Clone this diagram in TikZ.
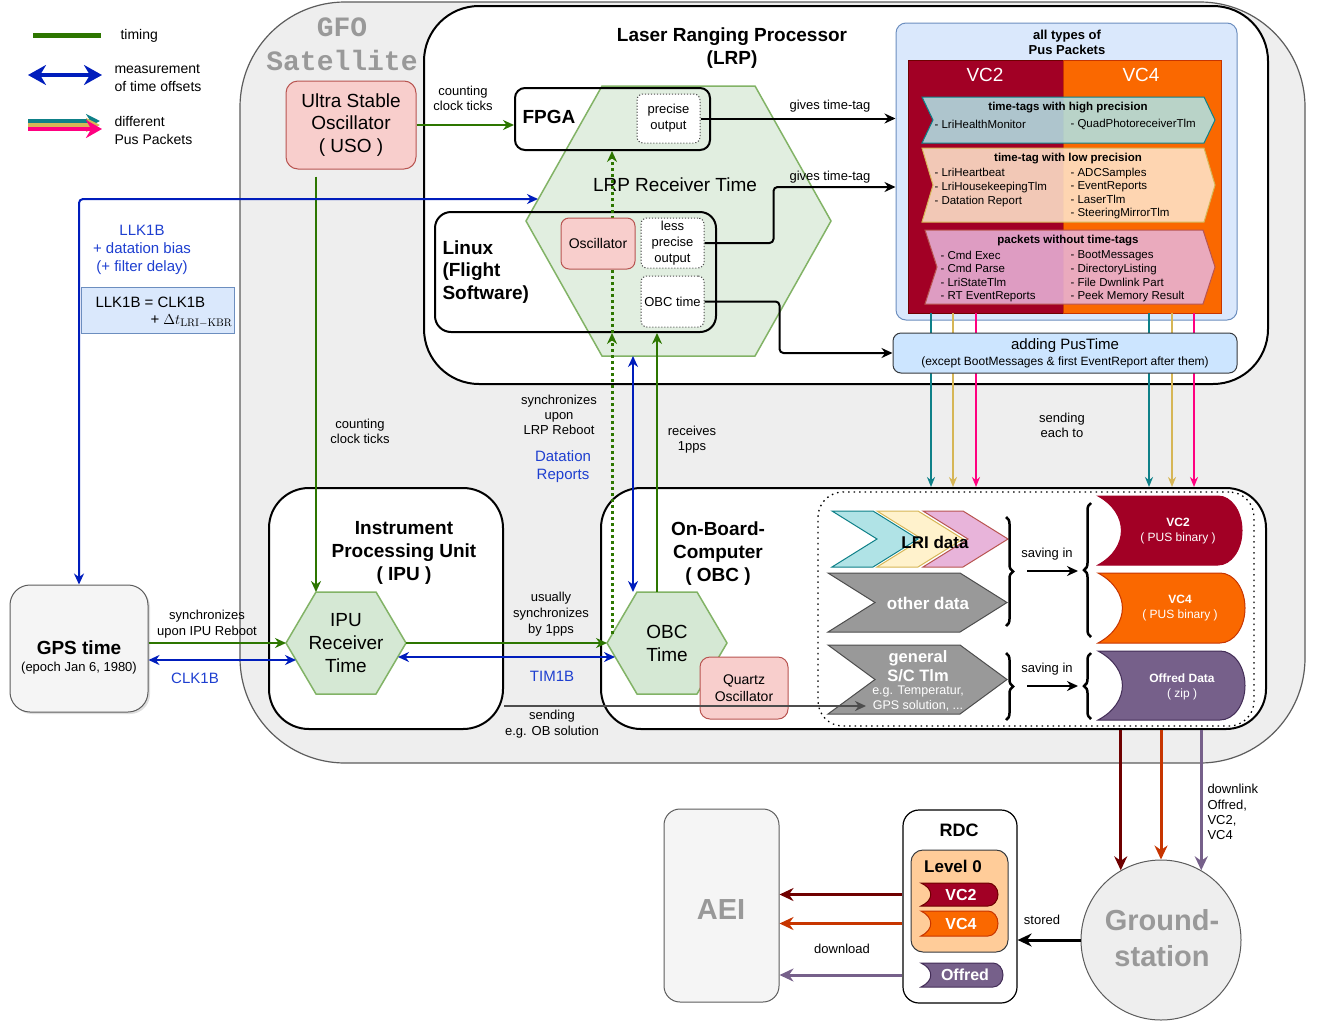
\documentclass[tikz,border=0pt]{standalone}
\usepackage[no-math]{fontspec}
\setmainfont{Liberation Sans}
\newfontfamily\monofont{Liberation Mono}
\usetikzlibrary{arrows.meta, calc, shadows, decorations.pathreplacing}

\definecolor{timegreen}{HTML}{2D7600}
\definecolor{offsetblue}{HTML}{001DBC}
\definecolor{labelblue}{HTML}{1E3FD0}
\definecolor{hexfill}{HTML}{D5E8D4}
\definecolor{hexline}{HTML}{82B366}
\definecolor{oscfill}{HTML}{F8CECC}
\definecolor{oscline}{HTML}{B85450}
\definecolor{satfill}{HTML}{EEEEEE}
\definecolor{satline}{HTML}{5C5C5C}
\definecolor{pusfill}{HTML}{DAE8FC}
\definecolor{pusedge}{HTML}{6C8EBF}
\definecolor{vctwo}{HTML}{A20025}
\definecolor{vctwoline}{HTML}{6F0000}
\definecolor{vcfour}{HTML}{FA6800}
\definecolor{vcfourline}{HTML}{C73500}
\definecolor{offredc}{HTML}{76608A}
\definecolor{offredline}{HTML}{432D57}
\definecolor{tealfill}{HTML}{B0E3E6}
\definecolor{tealline}{HTML}{0E8088}
\definecolor{yellowfill}{HTML}{FFF2CC}
\definecolor{yellowline}{HTML}{D6B656}
\definecolor{peachfill}{HTML}{FFE6CC}
\definecolor{pinkfill}{HTML}{E8B4DA}
\definecolor{pinkline}{HTML}{FF0080}
\definecolor{addfill}{HTML}{CCE5FF}
\definecolor{darkline}{HTML}{36393D}
\definecolor{levelfill}{HTML}{FFCC99}
\definecolor{grayfill}{HTML}{999999}
\definecolor{graytext}{HTML}{999999}
\definecolor{boxgray}{HTML}{F5F5F5}
\definecolor{sendgray}{HTML}{4D4D4D}

% step shape: style, x0, y0, x1, y1, tip depth
\newcommand{\chevronshape}[6]{%
  \filldraw[#1] (#2,#3) -- ({#4-#6},#3) -- (#4,{0.5*(#3+#5)}) -- ({#4-#6},#5)
    -- (#2,#5) -- ({#2+#6},{0.5*(#3+#5)}) -- cycle;}
% stored data shape: style, x0, y0, x1, y1, bulge
\newcommand{\storeshape}[6]{%
  \filldraw[#1] (#2,#3) -- ({#4-#6},#3)
    .. controls ({#4-0.45*#6},#3) and (#4,{#3+0.22*(#5-#3)}) .. (#4,{0.5*(#3+#5)})
    .. controls (#4,{#5-0.22*(#5-#3)}) and ({#4-0.45*#6},#5) .. ({#4-#6},#5)
    -- (#2,#5)
    .. controls ({#2+1.3*#6},{#5-0.25*(#5-#3)}) and ({#2+1.3*#6},{#3+0.25*(#5-#3)}) .. (#2,#3) -- cycle;}
% hexagon round a named node: node, inset, style
\newcommand{\hexoutline}[3]{%
  \filldraw[#3] (#1.west) -- ($(#1.north west)+(#2,0)$) -- ($(#1.north east)+(-#2,0)$)
    -- (#1.east) -- ($(#1.south east)+(-#2,0)$) -- ($(#1.south west)+(#2,0)$) -- cycle;}

\begin{document}
\begin{tikzpicture}[x=1pt, y=-1pt, line width=1pt,
    lbl/.style={font=\fontsize{13}{15}\selectfont, align=center, inner sep=0pt},
    bluelbl/.style={font=\fontsize{15}{18}\selectfont, align=center, inner sep=0pt, text=labelblue},
    heading/.style={font=\bfseries\fontsize{19}{23}\selectfont, align=center, inner sep=0pt},
    bigtxt/.style={font=\fontsize{19}{23}\selectfont, align=center, inner sep=0pt},
    smalltxt/.style={font=\fontsize{14}{17}\selectfont, align=center, inner sep=0pt},
    itemtxt/.style={font=\fontsize{11.5}{13.6}\selectfont, align=left, inner sep=0pt, anchor=west},
    bandtitle/.style={font=\bfseries\fontsize{11.5}{13.6}\selectfont, inner sep=0pt},
    legtxt/.style={font=\fontsize{14}{18}\selectfont, align=left, inner sep=0pt, anchor=west},
    graytitle/.style={font=\bfseries\fontsize{29}{36}\selectfont, text=graytext, align=center, inner sep=0pt},
    unitbox/.style={draw=black, line width=2pt, fill=white, rounded corners=40pt},
    framebox/.style={draw=black, line width=2pt, rounded corners=10pt, inner sep=0pt},
    oscbox/.style={draw=oscline, fill=oscfill, rounded corners=10pt},
    dotbox/.style={draw=black!70, dash pattern=on 1.2pt off 1.8pt, fill=white, rounded corners=6pt,
      minimum width=63pt, font=\fontsize{13}{16}\selectfont, align=center, inner sep=0pt},
    anchorbox/.style={inner sep=0pt, outer sep=0pt},
    hexa/.style={fill=hexfill, draw=hexline, line width=1.5pt},
    timeflow/.style={draw=timegreen, line width=2pt, -{Stealth[length=11pt,width=10pt]}},
    offsetflow/.style={draw=offsetblue, line width=2pt, {Stealth[length=11pt,width=10pt]}-{Stealth[length=11pt,width=10pt]}},
    tagflow/.style={draw=black, line width=2pt, -{Stealth[length=11pt,width=10pt]}},
    pusflow/.style={line width=2pt, -{Stealth[length=10pt,width=8pt]}},
    dlflow/.style={line width=3pt, -{Stealth[length=14pt,width=13pt]}},
    bandshape/.style={fill opacity=0.87, line width=1pt},
    bracedeco/.style={decorate, decoration={brace, amplitude=7pt}, line width=2.5pt}
  ]
  \useasboundingbox (0,0) rectangle (1319,1023);

  % legend
  \coordinate (legTa) at (33,35);
  \coordinate (legTb) at (101,35);
  \draw[draw=timegreen, line width=5pt] (legTa) -- (legTb);
  \node[legtxt] (legT) at (120,36) {timing};
  \coordinate (legMa) at (28,75);
  \coordinate (legMb) at (102,75);
  \draw[draw=offsetblue, line width=4pt, {Stealth[length=18pt,width=20pt]}-{Stealth[length=18pt,width=20pt]}] (legMa) -- (legMb);
  \node[legtxt] (legM) at (114,78) {measurement\\of time offsets};
  \coordinate (legPa) at (28,121);
  \coordinate (legPb) at (100,121);
  \draw[draw=tealline, line width=4pt, -{Stealth[length=14pt,width=14pt]}] (legPa) -- (legPb);
  \draw[draw=yellowline, line width=4pt, -{Stealth[length=14pt,width=14pt]}] ($(legPa)+(0,4)$) -- ($(legPb)+(0,4)$);
  \draw[draw=pinkline, line width=4pt, -{Stealth[length=16pt,width=18pt]}] ($(legPa)+(0,8)$) -- ($(legPb)+(2,8)$);
  \node[legtxt] (legP) at (114,130.5) {different\\Pus Packets};

  % satellite
  \draw[fill=satfill, draw=satline, line width=1.2pt, rounded corners=105pt]
    (700,763) -- (240,763) -- (240,2) -- (1305,2) -- (1305,763) -- cycle;
  \node[font=\monofont\bfseries\fontsize{28}{34}\selectfont, text=graytext, align=center, inner sep=0pt] (gfo) at (342,44) {GFO\\Satellite};

  % units
  \node[unitbox, rounded corners=55pt, minimum width=844pt, minimum height=378pt] (lrp) at (846,195) {};
  \node[heading] (lrptitle) at (732,48) {Laser Ranging Processor\\(LRP)};
  \node[unitbox, minimum width=234pt, minimum height=241pt] (ipu) at (386,608.5) {};
  \node[heading] (iputitle) at (404,553) {Instrument\\Processing Unit\\( IPU )};
  \node[unitbox, minimum width=665pt, minimum height=241pt] (obc) at (933.5,608.5) {};
  \node[heading] (obctitle) at (718,554) {On-Board-\\Computer\\( OBC )};

  % receiver times
  \node[anchorbox, minimum width=120pt, minimum height=102pt] (ipuhex) at (346,643) {};
  \hexoutline{ipuhex}{30}{hexa}
  \node[bigtxt] (iputime) at (ipuhex) {IPU\\Receiver\\Time};
  \node[anchorbox, minimum width=120pt, minimum height=102pt] (obchex) at (667,643) {};
  \hexoutline{obchex}{30}{hexa}
  \node[bigtxt] (obctimetxt) at (obchex) {OBC\\Time};
  \node[oscbox, smalltxt, minimum width=88pt, minimum height=62pt] (quartz) at (744,688) {Quartz\\Oscillator};

  \node[oscbox, bigtxt, rounded corners=12pt, minimum width=130pt, minimum height=88pt, font=\fontsize{19}{22.5}\selectfont] (uso) at (351,125) {Ultra Stable\\Oscillator\\( USO )};

  \node[anchorbox, minimum width=305pt, minimum height=270pt] (lrphex) at (678.5,221) {};
  \hexoutline{lrphex}{76}{hexa, fill opacity=0.7}
  \node[framebox, minimum width=195pt, minimum height=62pt] (fpga) at (612.5,119) {};
  \node[heading, anchor=west] (fpgatxt) at (522,117) {FPGA};
  \node[framebox, rounded corners=16pt, minimum width=281pt, minimum height=120pt] (linux) at (575.5,272) {};
  \node[heading, anchor=west, align=left, font=\bfseries\fontsize{19}{22.5}\selectfont] (linuxtxt) at (442,272) {Linux\\(Flight\\Software)};
  \node[bigtxt] (lrptime) at (675,185) {LRP Receiver Time};

  % synchronisation upon reboot
  \coordinate (syncout) at ($(obchex.west)+(5,-9)$);
  \draw[timeflow, line width=3pt, dash pattern=on 3pt off 3pt] (syncout) -- (syncout |- linux.south);
  \draw[timeflow, line width=3pt, dash pattern=on 3pt off 3pt] (syncout |- linux.south) -- (syncout |- fpga.south);

  \node[dotbox, minimum height=49pt] (precise) at (668.5,118.5) {precise\\output};
  \node[oscbox, smalltxt, rounded corners=8pt, minimum width=74pt, minimum height=51pt] (osc) at (598,243.5) {Oscillator};
  \node[dotbox, minimum height=50pt] (lessprec) at (672.5,243) {less\\precise\\output};
  \node[dotbox, minimum height=51pt] (obctime) at (672.5,301.5) {OBC time};

  % pus packets
  \node[draw=pusedge, fill=pusfill, rounded corners=10pt, minimum width=341pt, minimum height=297pt] (puspk) at (1066.5,171.5) {};
  \node[bandtitle, font=\bfseries\fontsize{13}{15}\selectfont, align=center] (pustitle) at (1067,42) {all types of\\Pus Packets};
  \node[anchorbox, anchor=north west, fill=vctwo, draw=vctwoline, minimum width=155pt, minimum height=253pt] (vctwoarea) at (908,60) {};
  \node[anchorbox, anchor=north west, fill=vcfour, draw=vcfourline, minimum width=158pt, minimum height=253pt] (vcfourarea) at (1063,60) {};
  \node[bigtxt, text=white] (vctwohead) at (985,75) {VC2};
  \node[bigtxt, text=white] (vcfourhead) at (1141,75) {VC4};

  \chevronshape{bandshape, fill=tealfill, draw=tealline}{922}{97}{1215}{143}{11}
  \node[bandtitle] (hightitle) at (1068,108) {time-tags with high precision};
  \node[itemtxt] (highleft) at (934,124) {- LriHealthMonitor};
  \node[itemtxt] (highright) at (1070,124) {- QuadPhotoreceiverTlm};

  \chevronshape{bandshape, fill=peachfill, draw=yellowline}{922}{148}{1215}{222}{11}
  \node[bandtitle] (lowtitle) at (1068,159) {time-tag with low precision};
  \node[itemtxt] (lowleft) at (934,187.5) {- LriHeartbeat\\- LriHousekeepingTlm\\- Datation Report};
  \node[itemtxt] (lowright) at (1070,193.5) {- ADCSamples\\- EventReports\\- LaserTlm\\- SteeringMirrorTlm};

  \chevronshape{bandshape, fill=pinkfill, draw=oscline}{925}{230}{1215}{304}{12}
  \node[bandtitle] (nonetitle) at (1068,241) {packets without time-tags};
  \node[itemtxt] (noneleft) at (940,276.5) {- Cmd Exec\\- Cmd Parse\\- LriStateTlm\\- RT EventReports};
  \node[itemtxt] (noneright) at (1070,276.5) {- BootMessages\\- DirectoryListing\\- File Dwnlink Part\\- Peek Memory Result};

  \foreach \xx/\cc in {931/tealline, 953/yellowline, 976/pinkline, 1149/tealline, 1172/yellowline, 1194/pinkline}
    \draw[pusflow, draw=\cc] (vctwoarea.south -| \xx,0) -- (obc.north -| \xx,0);
  \node[lbl] (sendeach) at (1062,425) {sending\\each to};

  \node[draw=darkline, fill=addfill, rounded corners=8pt, minimum width=344pt, minimum height=40pt] (addpus) at (1065,353) {};
  \node[lbl, font=\fontsize{15}{18}\selectfont] (addpustxt) at (1065,346) {adding PusTime};
  \node[lbl, font=\fontsize{12}{14}\selectfont] (addpusnote) at (1065,362) {(except BootMessages \& first EventReport after them)};

  % time tags
  \draw[tagflow] (precise.east) -- (precise.east -| puspk.west);
  \node[lbl] (tagone) at (830,106) {gives time-tag};
  \draw[tagflow, rounded corners=4pt] (lessprec.east) -- ++(69,0) |- (puspk.west |- 0,187);
  \node[lbl] (tagtwo) at (830,177) {gives time-tag};
  \draw[tagflow, rounded corners=4pt] (obctime.east) -- ++(75,0) |- (addpus.west);

  % timing and offsets
  \draw[timeflow] (uso.east) -- (uso.east -| fpga.west);
  \node[lbl] (countone) at (463,98) {counting\\clock ticks};
  \coordinate (usoout) at ($(uso.south)+(-35,7)$);
  \draw[timeflow] (usoout) -- (usoout |- ipuhex.north);
  \node[lbl] (counttwo) at (360,431) {counting\\clock ticks};

  \node[draw=satline, fill=boxgray, rounded corners=20pt, minimum width=138pt, minimum height=127pt,
    drop shadow={shadow xshift=2pt, shadow yshift=-2pt, opacity=0.25}] (gps) at (79,648.5) {};
  \node[heading] (gpstxt) at (79,648) {GPS time};
  \node[lbl] (gpsepoch) at (79,668) {(epoch Jan 6, 1980)};

  \draw[offsetflow, rounded corners=4pt] (gps.north) |- ($(lrphex.west)+(12,-22)$);
  \node[bluelbl] (llktxt) at (142,250) {LLK1B\\+ datation bias\\(+ filter delay)};
  \node[draw=pusedge, fill=pusfill, inner sep=0pt, minimum width=153pt, minimum height=46pt] (llkbox) at (157.5,310) {};
  \node[lbl, font=\fontsize{15}{18}\selectfont, anchor=west] (llkeq) at (95,302) {LLK1B = CLK1B};
  \node[lbl, font=\fontsize{15}{18}\selectfont, anchor=east] (llkdt) at (233,321) {+ $\Delta t_{\mathrm{LRI-KBR}}$};

  \draw[timeflow] (ipuhex.west -| gps.east) -- (ipuhex.west);
  \node[lbl, font=\fontsize{13}{16}\selectfont] (syncipu) at (207,624) {synchronizes\\upon IPU Reboot};
  \coordinate (clkend) at ($(ipuhex.west)+(10,17)$);
  \draw[offsetflow] (clkend -| gps.east) -- (clkend);
  \node[bluelbl] (clktxt) at (195,678) {CLK1B};

  \draw[timeflow] (ipuhex.east) -- (obchex.west);
  \node[lbl, font=\fontsize{13}{16}\selectfont] (ppstxt) at (551,614) {usually\\synchronizes\\by 1pps};
  \draw[offsetflow] ($(ipuhex.east)+(-8,14)$) -- ($(obchex.west)+(8,14)$);
  \node[bluelbl] (timtxt) at (552,676) {TIM1B};

  \coordinate (ppsout) at ($(obchex.north)+(-10,0)$);
  \draw[timeflow] (ppsout) -- (ppsout |- linux.south);
  \node[lbl] (recv) at (692,440) {receives\\1pps};
  \coordinate (datx) at (633,0);
  \draw[offsetflow] (datx |- lrphex.south) -- (datx |- obchex.north);
  \node[lbl] (synclrp) at (559,415) {synchronizes\\upon\\LRP Reboot};
  \node[bluelbl] (dattxt) at (563,467) {Datation\\Reports};

  % data inside the OBC
  \node[draw, line width=1.3pt, dash pattern=on 1.5pt off 4pt, rounded corners=25pt, minimum width=436pt, minimum height=234pt] (obcdata) at (1036,609) {};
  \chevronshape{fill=tealfill, draw=tealline}{832}{511}{918}{567}{45}
  \chevronshape{fill=yellowfill, draw=yellowline}{877}{511}{963}{567}{45}
  \chevronshape{fill=pinkfill, draw=oscline}{923}{511}{1008}{567}{45}
  \node[heading, font=\bfseries\fontsize{17}{20}\selectfont] (lritxt) at (935,542) {LRI data};
  \chevronshape{fill=grayfill, draw=sendgray}{828}{573}{1007}{632}{47}
  \node[heading, font=\bfseries\fontsize{17}{20}\selectfont, text=white] (othertxt) at (928,603) {other data};
  \chevronshape{fill=grayfill, draw=sendgray}{828}{645}{1007}{714}{47}
  \node[heading, font=\bfseries\fontsize{16.5}{19}\selectfont, text=white] (gentxt) at (918,666.5) {general\\S/C Tlm};
  \node[lbl, font=\fontsize{12.5}{15}\selectfont, text=white] (genex) at (918,698.5) {e.g. Temperatur,\\GPS solution, ...};

  \coordinate (sendend) at (866,706);
  \draw[draw=sendgray, line width=2pt, -{Stealth[length=11pt,width=10pt]}] (ipu.east |- sendend) -- (sendend);
  \node[lbl, font=\fontsize{13}{16}\selectfont] (sendtxt) at (552,724) {sending\\e.g. OB solution};

  \draw[bracedeco] (1006,517) -- (1006,626);
  \draw[bracedeco] (1091,637) -- (1091,503);
  \draw[bracedeco] (1006,653) -- (1006,720);
  \draw[bracedeco] (1091,719) -- (1091,653);
  \coordinate (saveA) at (1027,571);
  \coordinate (saveB) at (1078,571);
  \draw[tagflow] (saveA) -- (saveB);
  \node[lbl] (saveone) at (1047,554) {saving in};
  \coordinate (saveC) at (1027,686);
  \coordinate (saveD) at (1078,686);
  \draw[tagflow] (saveC) -- (saveD);
  \node[lbl] (savetwo) at (1047,669) {saving in};

  \storeshape{fill=vctwo, draw=vctwo}{1098}{496}{1242}{565}{24}
  \node[lbl, font=\fontsize{12}{15}\selectfont, text=white] (vctwostore) at (1178,531) {\textbf{VC2}\\( PUS binary )};
  \storeshape{fill=vcfour, draw=vcfourline}{1098}{573}{1245}{643}{25}
  \node[lbl, font=\fontsize{12}{15}\selectfont, text=white] (vcfourstore) at (1180,608.5) {\textbf{VC4}\\( PUS binary )};
  \storeshape{fill=offredc, draw=offredline}{1098}{651}{1245}{720}{25}
  \node[lbl, font=\fontsize{12}{15}\selectfont, text=white] (offredstore) at (1182,686.5) {\textbf{Offred Data}\\( zip )};

  % ground segment
  \node[circle, draw=satline, fill=satfill, minimum size=160pt] (ground) at (1161,940) {};
  \node[graytitle] (groundtxt) at (1162,938) {Ground-\\station};
  \draw[dlflow, draw=vctwoline] (obc.south -| ground.120) -- (ground.120);
  \draw[dlflow, draw=vcfourline] (obc.south -| ground.north) -- (ground.north);
  \draw[dlflow, draw=offredc] (obc.south -| ground.60) -- (ground.60);
  \node[lbl, font=\fontsize{13}{15.3}\selectfont, align=left, anchor=west] (dltxt) at (1207,812) {downlink\\Offred,\\VC2,\\VC4};

  \node[draw, line width=1.2pt, fill=white, rounded corners=16pt, minimum width=114pt, minimum height=193pt] (rdc) at (960,906.5) {};
  \node[heading, font=\bfseries\fontsize{18}{21}\selectfont] (rdctxt) at (959,830) {RDC};
  \node[draw=darkline, fill=levelfill, rounded corners=12pt, minimum width=97pt, minimum height=102pt] (level) at (959.5,901) {};
  \node[heading, font=\bfseries\fontsize{17}{20}\selectfont] (leveltxt) at (953,866) {Level 0};
  \storeshape{fill=vctwo, draw=vctwoline}{921}{883}{998}{906}{10}
  \node[heading, font=\bfseries\fontsize{16}{19}\selectfont, text=white] (vctwotag) at (961,894.5) {VC2};
  \storeshape{fill=vcfour, draw=vcfourline}{921}{911}{998}{936}{10}
  \node[heading, font=\bfseries\fontsize{16}{19}\selectfont, text=white] (vcfourtag) at (961,923.5) {VC4};
  \storeshape{fill=offredc, draw=offredline}{921}{963}{1003}{987}{10}
  \node[heading, font=\bfseries\fontsize{16}{19}\selectfont, text=white] (offredtag) at (965,975) {Offred};

  \draw[tagflow, line width=3pt, -{Stealth[length=14pt,width=13pt]}] (ground.west) -- (ground.west -| rdc.east);
  \node[lbl] (storedtxt) at (1042,920) {stored};

  \node[draw=satline, fill=boxgray, rounded corners=16pt, minimum width=115pt, minimum height=193pt] (aei) at (721.5,905.5) {};
  \node[graytitle] (aeitxt) at (721,910) {AEI};
  \draw[dlflow, draw=vctwoline] (vctwotag.west -| rdc.west) -- (vctwotag.west -| aei.east);
  \draw[dlflow, draw=vcfourline] (vcfourtag.west -| rdc.west) -- (vcfourtag.west -| aei.east);
  \draw[dlflow, draw=offredc] (offredtag.west -| rdc.west) -- (offredtag.west -| aei.east);
  \node[lbl] (dowtxt) at (842,949) {download};
\end{tikzpicture}
\end{document}
